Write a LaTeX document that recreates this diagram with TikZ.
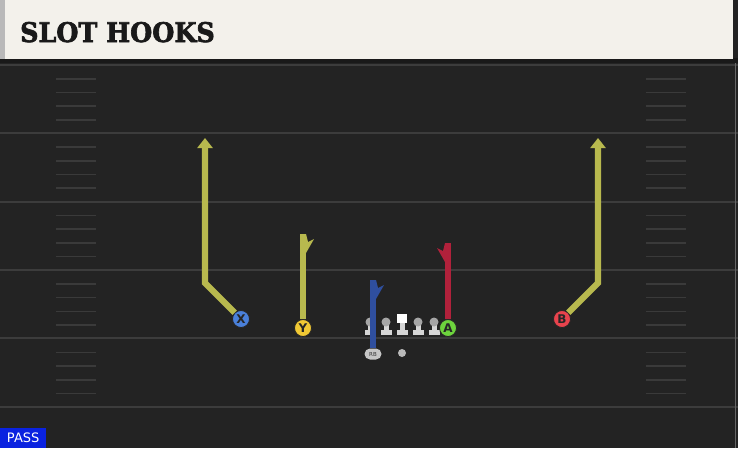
\documentclass[tikz,border=0pt]{standalone}
\usepackage{fontspec}
\usepackage{graphicx}
\setmainfont{DejaVu Sans}
\newfontfamily\titlefont[BoldFeatures={FakeBold=2.5}]{DejaVu Serif}
\usepackage{tikz}
\usetikzlibrary{arrows.meta, shapes.misc}
\definecolor{colorField}{HTML}{232323}
\definecolor{colorBand}{HTML}{F3F1EB}
\definecolor{colorYard}{HTML}{3C3C3C}
\definecolor{colorHash}{HTML}{3A3A3A}
\definecolor{colorYellowRoute}{HTML}{B8B94E}
\definecolor{colorRedRoute}{HTML}{B1213B}
\definecolor{colorBlueRoute}{HTML}{2F4F9F}
\definecolor{colorX}{HTML}{4A80DA}
\definecolor{colorY}{HTML}{F1C934}
\definecolor{colorA}{HTML}{6DD33D}
\definecolor{colorB}{HTML}{E8434D}
\definecolor{colorPass}{HTML}{0A22E0}
\definecolor{colorBlocker}{HTML}{D6D6D6}
\tikzset{
  blocker/.pic={
    \fill[colorBlocker] (-2.5,-5) rectangle (2.5,4);
    \fill[colorBlocker] (-5.5,3) rectangle (5.5,8);
    \fill[gray!70] (0,-5) circle (4.5);
  },
  centre/.pic={
    \fill[colorBlocker] (-2.5,-4) rectangle (2.5,4);
    \fill[colorBlocker] (-5.5,3) rectangle (5.5,8);
    \fill[white] (-5,-13) rectangle (5,-4);
  }
}

\begin{document}
\begin{tikzpicture}[x=1pt, y=-1pt,
  player/.style={circle, draw=black!85, line width=0.8pt, minimum size=17pt, inner sep=0pt,
    font=\bfseries\fontsize{12}{12}\selectfont, text=black!85},
  route/.style={line width=6.3pt, line join=miter, line cap=butt},
  tip/.style={-{Triangle[width=15pt, length=10pt]}},
  yardline/.style={draw=colorYard, line width=2pt},
  hashmark/.style={draw=colorHash, line width=1.6pt}]
\useasboundingbox (0,0) rectangle (738,448);
\fill[colorField] (0,0) rectangle (738,448);
\foreach \y in {65,133,202,270,338,407}
  \draw[yardline] (0,\y) -- (738,\y);
\foreach \k in {0,...,4}
  \foreach \j in {1,...,4} {
    \draw[hashmark] (56,65+68.4*\k+13.7*\j) -- (96,65+68.4*\k+13.7*\j);
    \draw[hashmark] (646,65+68.4*\k+13.7*\j) -- (686,65+68.4*\k+13.7*\j);
  }
\draw[black!60, line width=1pt] (735,60) -- (735,448);
\fill[black!90] (0,58) rectangle (738,63);
\fill[colorBand] (0,0) rectangle (733,59);
\fill[gray!55] (0,0) rectangle (5,59);
\node[anchor=base west, inner sep=0pt, font=\titlefont\bfseries\fontsize{27}{27}\selectfont, text=black!90] (title) at (20,42) {\scalebox{0.94}[1]{SLOT HOOKS}};
\node[fill=colorPass, text=white, anchor=south west, minimum width=46pt, minimum height=20pt, inner sep=0pt,
  font=\fontsize{13}{13}\selectfont] (pass) at (0,448) {PASS};

\foreach \x in {370,386,418,434}
  \pic at (\x,327) {blocker};
\pic at (402,327) {centre};
\node[fill=gray!45, rounded rectangle, minimum width=17pt, minimum height=11pt, inner sep=0pt,
  font=\fontsize{5.5}{5.5}\selectfont, text=black!80] (RB) at (373,354) {RB};
\node[circle, fill=gray!55, minimum size=8pt, inner sep=0pt] (ball) at (402,353) {};

\node[player, fill=colorX] (X) at (241,319) {X};
\node[player, fill=colorY] (Y) at (303,328) {Y};
\node[player, fill=colorA] (A) at (448,328) {A};
\node[player, fill=colorB] (B) at (562,319) {B};

\coordinate (xbreak) at (205,283);
\coordinate (xend) at (205,138);
\coordinate (bbreak) at (598,283);
\coordinate (bend) at (598,138);
\coordinate (ytop) at (303,234);
\coordinate (rbtop) at (373,280);
\coordinate (atop) at (448,243);

\draw[route, colorYellowRoute, tip] (X) -- (xbreak) -- (xend);
\draw[route, colorYellowRoute, tip] (B) -- (bbreak) -- (bend);
\draw[route, colorYellowRoute] (Y) -- (ytop);
\fill[colorYellowRoute] (ytop) ++(3,0) -- ++(2,8) -- ++(6,-3) -- ++(-8,14) -- cycle;
\draw[route, colorBlueRoute] (RB) -- (rbtop);
\fill[colorBlueRoute] (rbtop) ++(3,0) -- ++(2,8) -- ++(6,-3) -- ++(-8,14) -- cycle;
\draw[route, colorRedRoute] (A) -- (atop);
\fill[colorRedRoute] (atop) ++(-3,0) -- ++(-2,8) -- ++(-6,-3) -- ++(8,14) -- cycle;
\end{tikzpicture}
\end{document}
